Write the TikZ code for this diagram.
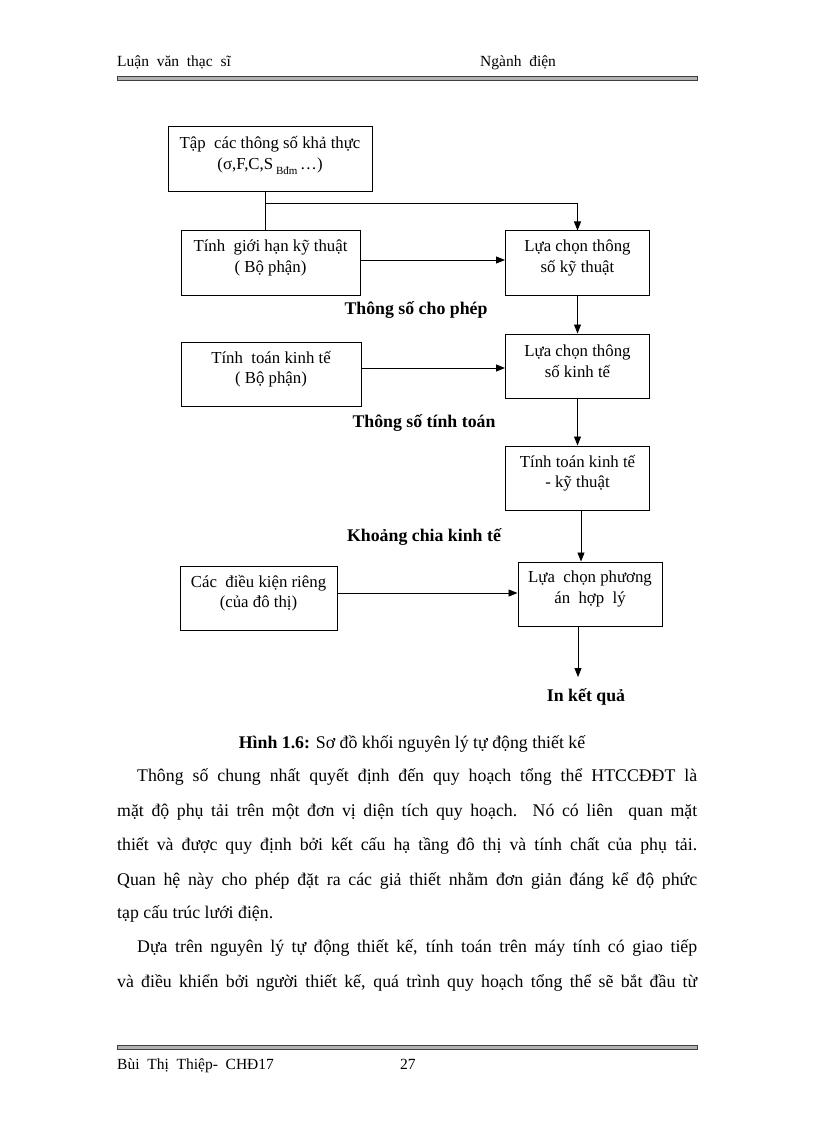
\documentclass[tikz,border=0pt]{standalone}
\usepackage{fontspec}
\setmainfont{Liberation Serif}
\usetikzlibrary{arrows.meta}
\begin{document}
\begin{tikzpicture}[x=1pt,y=-1pt,
  box/.style={draw,line width=1pt,inner sep=0pt},
  btxt/.style={font=\fontsize{16.8}{20.5}\selectfont,align=center,inner sep=0pt},
  lbl/.style={font=\fontsize{17.8}{20}\selectfont\bfseries,inner sep=0pt},
  body/.style={font=\fontsize{17.8}{20}\selectfont,anchor=base west,inner sep=0pt},
  hdr/.style={font=\fontsize{15.5}{18}\selectfont,anchor=base west,inner sep=0pt},
  arr/.style={-{Triangle[length=9pt,width=7pt]},line width=0.9pt},
  ln/.style={line width=0.9pt}]
\useasboundingbox (0,0) rectangle (816,1123);
\fill[white] (0,0) rectangle (816,1123);

% header
\node[hdr] (h1) at (117,67) {Luận\ \ văn\ \ thạc\ \ sĩ};
\node[hdr] (h2) at (480,67) {Ngành\ \ điện};
\filldraw[fill=gray!60,draw=black!75,line width=0.6pt] (117,76.5) rectangle (697,80.5);

% boxes
\node[box,minimum width=204pt,minimum height=65pt] (b1) at (270,159.5) {};
\node[box,minimum width=179pt,minimum height=64pt] (b2) at (270.5,263) {};
\node[box,minimum width=144pt,minimum height=64pt] (b3) at (577.5,263) {};
\node[box,minimum width=144pt,minimum height=64pt] (b4) at (577.5,366) {};
\node[box,minimum width=180pt,minimum height=64pt] (b5) at (271,374) {};
\node[box,minimum width=144pt,minimum height=64pt] (b6) at (577.5,478) {};
\node[box,minimum width=144pt,minimum height=64pt] (b7) at (590,594) {};
\node[box,minimum width=157pt,minimum height=64pt] (b8) at (258.5,598) {};

% box texts
\node[btxt] (t1) at ([yshift=4pt]b1.center) {Tập\ \ các thông số khả thực\\(σ,F,C,S\,\raisebox{-0.6ex}{\fontsize{11}{11}\selectfont Bđm}\,…)};
\node[btxt] (t2) at ([yshift=5pt]b2.center) {Tính\ \ giới hạn kỹ thuật\\( Bộ phận)};
\node[btxt] (t3) at ([yshift=5pt]b3.center) {Lựa chọn thông\\số kỹ thuật};
\node[btxt] (t4) at ([yshift=5pt]b4.center) {Lựa chọn thông\\số kinh tế};
\node[btxt] (t5) at ([yshift=5pt]b5.center) {Tính\ \ toán kinh tế\\( Bộ phận)};
\node[btxt] (t6) at ([yshift=5pt]b6.center) {Tính toán kinh tế\\- kỹ thuật};
\node[btxt] (t7) at ([yshift=5pt]b7.center) {Lựa\ \ chọn phương\\án\ \ hợp\ \ lý};
\node[btxt] (t8) at ([yshift=5pt]b8.center) {Các\ \ điều kiện riêng\\(của đô thị)};

% labels
\node[lbl] (l1) at (416,310) {Thông số cho phép};
\node[lbl] (l2) at (424,423) {Thông số tính toán};
\node[lbl] (l3) at (424,537) {Khoảng chia kinh tế};
\node[lbl] (l4) at (586,697) {In kết quả};

% connectors
\coordinate (j1) at (265,203);
\coordinate (out) at (578,677);
\draw[ln] (b1.south -| j1) -- (b2.north -| j1);
\draw[arr] (j1) -| (b3.north);
\draw[arr] ([yshift=3pt]b2.east) -- ([yshift=3pt]b3.west);
\draw[arr] (b3.south) -- (b4.north);
\draw[arr] ([yshift=6pt]b5.east) -- ([yshift=6pt]b5.east -| b4.west);
\draw[arr] (b4.south) -- (b6.north);
\draw[arr] ([xshift=3.5pt]b6.south) -- ([xshift=3.5pt]b6.south |- b7.north);
\draw[arr] ([yshift=5pt]b8.east) -- ([yshift=5pt]b8.east -| b7.west);
\draw[arr] (b7.south -| out) -- (out);

% caption and body text
\node[body,anchor=base] (cap) at (412,748) {\textbf{Hình 1.6:} Sơ đồ khối nguyên lý tự động thiết kế};
\node[body] (p1) at (137,781) {\makebox[560pt][s]{Thông số chung nhất quyết định đến quy hoạch tổng thể HTCCĐĐT là}};
\node[body] (p2) at (117,816) {\makebox[580pt][s]{mặt độ phụ tải trên một đơn vị diện tích quy hoạch. Nó có liên\ \ quan mặt}};
\node[body] (p3) at (117,850) {\makebox[580pt][s]{thiết và được quy định bởi kết cấu hạ tầng đô thị và tính chất của phụ tải.}};
\node[body] (p4) at (117,885) {\makebox[580pt][s]{Quan hệ này cho phép đặt ra các giả thiết nhằm đơn giản đáng kể độ phức}};
\node[body] (p5) at (117,918) {tạp cấu trúc lưới điện.};
\node[body] (p6) at (137,952) {\makebox[560pt][s]{Dựa trên nguyên lý tự động thiết kế, tính toán trên máy tính có giao tiếp}};
\node[body] (p7) at (117,987) {\makebox[580pt][s]{và điều khiển bởi người thiết kế, quá trình quy hoạch tổng thể sẽ bắt đầu từ}};

% footer
\filldraw[fill=gray!60,draw=black!75,line width=0.6pt] (117,1045) rectangle (697,1049);
\node[hdr] (f1) at (117,1069) {Bùi\ \ Thị\ \ Thiệp-\ \ CHĐ17};
\node[hdr] (f2) at (400,1069) {27};
\end{tikzpicture}
\end{document}
